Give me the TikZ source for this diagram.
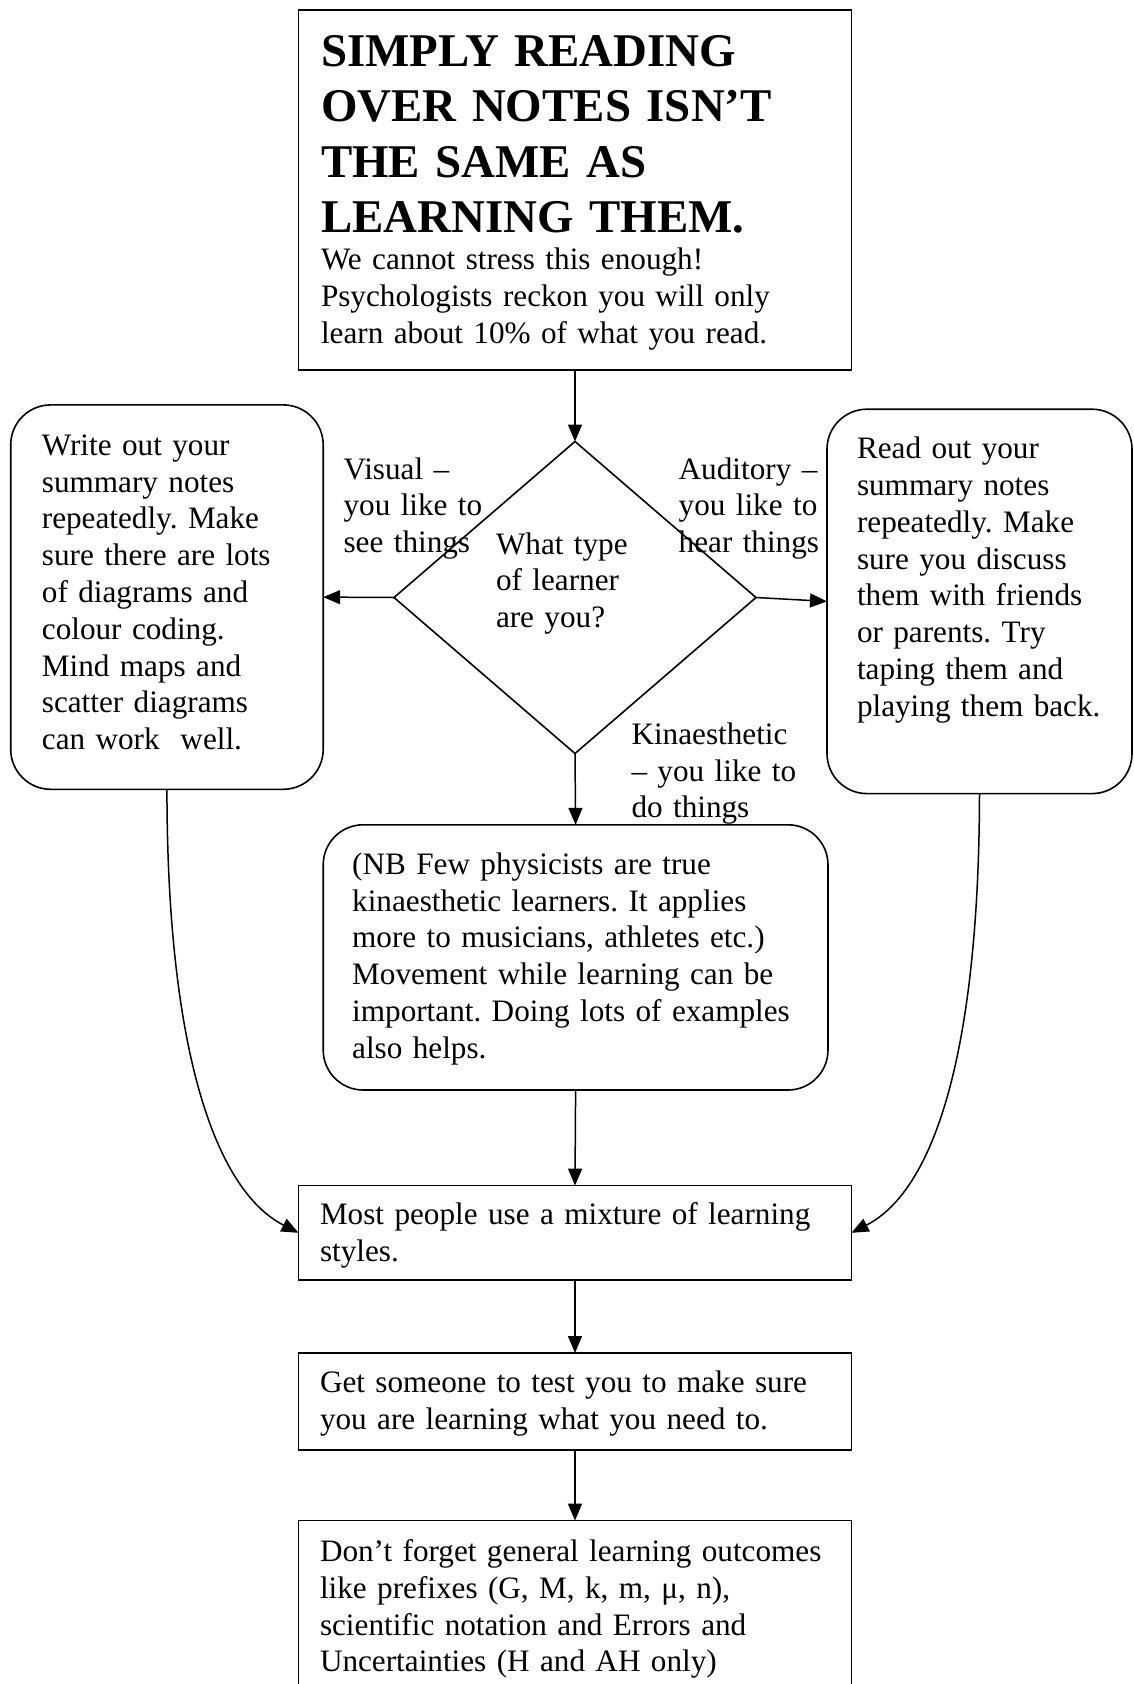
\documentclass[tikz,border=0pt]{standalone}
\usepackage{fontspec}
\setmainfont{Liberation Serif}
\usetikzlibrary{shapes.geometric,arrows.meta}
\tikzset{
  box/.style={draw, line width=1.6pt, inner sep=0pt, outer sep=0pt, anchor=north west},
  rbox/.style={box, rounded corners=40pt},
  dia/.style={draw, line width=1.6pt, shape=diamond, inner sep=0pt, outer sep=0pt, minimum width=362pt, minimum height=312pt},
  txt/.style={anchor=base west, inner sep=0pt, outer sep=0pt, align=left, font=\fontsize{31.2}{36.8}\selectfont\frenchspacing},
  ttlfont/.style={font=\fontsize{46.9}{55.2}\selectfont\bfseries\frenchspacing},
  arr/.style={line width=1.5pt, -{Triangle[length=17pt,width=14pt]}}
}
\begin{document}
\begin{tikzpicture}[x=1pt,y=-1pt]
\useasboundingbox (0,0) rectangle (1133,1684);
\clip (0,0) rectangle (1133,1684);
% boxes
\node[box, minimum width=553pt, minimum height=360pt] (top) at (298.5,9.7) {};
\node[dia] (dq) at (575,597.5) {};
\node[rbox, minimum width=312.5pt, minimum height=384.4pt] (lft) at (10.7,404.9) {};
\node[rbox, minimum width=305pt, minimum height=384.4pt] (rgt) at (827,409.2) {};
\node[rbox, minimum width=504.8pt, minimum height=265.2pt] (mid) at (323.2,824.8) {};
\node[box, minimum width=553pt, minimum height=94.4pt] (most) at (298.5,1185.6) {};
\node[box, minimum width=553pt, minimum height=96.8pt] (get) at (298.5,1353) {};
\node[box, minimum width=553pt, minimum height=200pt] (last) at (298.5,1520.6) {};
% texts
\node[txt, ttlfont, text width=540pt] (ttl) at (321,66.6) {SIMPLY READING\\OVER NOTES ISN’T\\THE SAME AS\\LEARNING THEM.};
\node[txt, text width=520pt] (topt) at (321,269.5) {We cannot stress this enough!\\Psychologists reckon you will only\\learn about 10\% of what you read.};
\node[txt, text width=160pt] (dqt) at (496,554) {What type\\of learner\\are you?};
\node[txt, text width=160pt] (vis) at (343.6,479) {Visual –\\you like to\\see things};
\node[txt, text width=160pt] (aud) at (678.7,479) {Auditory –\\you like to\\hear things};
\node[txt, text width=180pt] (kin) at (631.5,744.2) {Kinaesthetic\\– you like to\\do things};
\node[txt, text width=280pt] (lftt) at (41.9,455.3) {Write out your\\summary notes\\repeatedly. Make\\sure there are lots\\of diagrams and\\colour coding.\\Mind maps and\\scatter diagrams\\can work\ \ well.};
\node[txt, text width=270pt] (rgtt) at (857,458.6) {Read out your\\summary notes\\repeatedly. Make\\sure you discuss\\them with friends\\or parents. Try\\taping them and\\playing them back.};
\node[txt, text width=480pt] (midt) at (352.2,874.2) {(NB Few physicists are true\\kinaesthetic learners. It applies\\more to musicians, athletes etc.)\\Movement while learning can be\\important. Doing lots of examples\\also helps.};
\node[txt, text width=525pt] (mostt) at (320,1224.2) {Most people use a mixture of learning\\styles.};
\node[txt, text width=525pt] (gett) at (320,1392.8) {Get someone to test you to make sure\\you are learning what you need to.};
\node[txt, text width=525pt] (lastt) at (320,1561.5) {Don’t forget general learning outcomes\\like prefixes (G, M, k, m, μ, n),\\scientific notation and Errors and\\Uncertainties (H and AH only)};
% connectors
\draw[arr] (top.south) -- (dq.north);
\draw[arr] (dq.west) -- (lft.east);
\draw[arr] (dq.east) -- (rgt.west);
\draw[arr] (dq.south) -- (mid.north);
\draw[arr] (mid.south) -- (most.north);
\draw[arr] (most.south) -- (get.north);
\draw[arr] (get.south) -- (last.north);
\draw[arr] (lft.south) .. controls (167,1050) and (215,1190) .. (most.west);
\draw[arr] (rgt.south) .. controls (979,1050) and (935,1190) .. (most.east);
\end{tikzpicture}
\end{document}
